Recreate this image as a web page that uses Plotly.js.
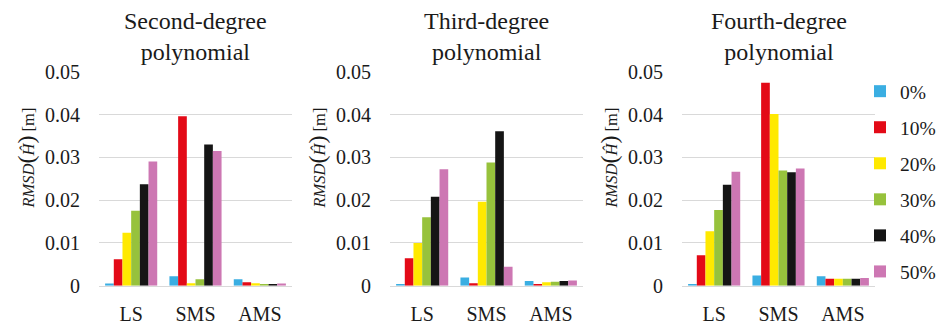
<!DOCTYPE html>
<html>
<head>
<meta charset="utf-8">
<script src="https://cdn.plot.ly/plotly-3.0.1.min.js"></script>
<style>
  html, body { margin: 0; padding: 0; background: #fff; }
  #chart { width: 937px; height: 324px; }
</style>
</head>
<body>
<div id="chart"></div>
<script>
// Methods on the category axis and outlier shares in the legend
const categories = ['LS', 'SMS', 'AMS'];
const seriesNames = ['0%', '10%', '20%', '30%', '40%', '50%'];
const seriesColors = ['#3AAEE2', '#E30A17', '#FFE900', '#97C23C', '#151515', '#CD77B3'];
const panelTitles = ['Second-degree<br>polynomial', 'Third-degree<br>polynomial', 'Fourth-degree<br>polynomial'];
const yTicks = [0, 0.01, 0.02, 0.03, 0.04, 0.05];
const yTickLabels = ['0', '0.01', '0.02', '0.03', '0.04', '0.05'];

// RMSD of the fitted surface [m], one array per outlier share: [LS, SMS, AMS]
const second0  = [0.0005, 0.0022, 0.0015];
const second10 = [0.0062, 0.0396, 0.0008];
const second20 = [0.0124, 0.0006, 0.0006];
const second30 = [0.0175, 0.0015, 0.0004];
const second40 = [0.0237, 0.0330, 0.0004];
const second50 = [0.0290, 0.0315, 0.0005];

const third0  = [0.0004, 0.0019, 0.0011];
const third10 = [0.0064, 0.0006, 0.0004];
const third20 = [0.0100, 0.0196, 0.0008];
const third30 = [0.0160, 0.0288, 0.0009];
const third40 = [0.0208, 0.0361, 0.0011];
const third50 = [0.0272, 0.0044, 0.0012];

const fourth0  = [0.0004, 0.0024, 0.0022];
const fourth10 = [0.0071, 0.0474, 0.0016];
const fourth20 = [0.0127, 0.0401, 0.0016];
const fourth30 = [0.0177, 0.0269, 0.0016];
const fourth40 = [0.0236, 0.0265, 0.0016];
const fourth50 = [0.0266, 0.0274, 0.0018];

const panels = [
  [second0, second10, second20, second30, second40, second50],
  [third0, third10, third20, third30, third40, third50],
  [fourth0, fourth10, fourth20, fourth30, fourth40, fourth50]
];

const W = 937, H = 324;
const FONT = 'Liberation Serif';
const TEXT = '#1a1a1a';
const GRID = '#d9d9d9';

// pixel extents of each plot area
const plotLeft = [99, 390, 682];
const plotWidth = 193;
const plotTop = 71.7, plotBottom = 285.7;

const traces = [];
panels.forEach((series, p) => {
  series.forEach((vals, s) => {
    traces.push({
      type: 'bar',
      x: categories,
      y: vals,
      name: seriesNames[s],
      legendgroup: 'g' + s,
      showlegend: p === 2,
      xaxis: p === 0 ? 'x' : 'x' + (p + 1),
      yaxis: p === 0 ? 'y' : 'y' + (p + 1),
      marker: { color: seriesColors[s], line: { width: 0 } },
      hoverinfo: 'x+y+name'
    });
  });
});

const layout = {
  width: W, height: H,
  // fixed margins: the legend must not shrink the plot areas
  margin: { l: 0, r: 0, t: 0, b: 0, autoexpand: false },
  paper_bgcolor: '#fff', plot_bgcolor: '#fff',
  font: { family: FONT, color: TEXT, size: 19 },
  barmode: 'group',
  bargap: 0.19,
  bargroupgap: 0,
  showlegend: true,
  legend: {
    x: 860 / W, xanchor: 'left',
    y: 1 - 72 / H, yanchor: 'top',
    font: { family: FONT, size: 19.5, color: TEXT },
    traceorder: 'grouped',
    tracegroupgap: 7.7,
    itemwidth: 30,
    bgcolor: 'rgba(0,0,0,0)'
  },
  annotations: [],
  shapes: []
};

for (let p = 0; p < 3; p++) {
  const sx = p === 0 ? '' : String(p + 1);
  const x0 = plotLeft[p] / W, x1 = (plotLeft[p] + plotWidth) / W;
  layout['xaxis' + sx] = {
    domain: [x0, x1],
    anchor: 'y' + sx,
    type: 'category',
    showline: true, linecolor: GRID, linewidth: 1.5,
    showgrid: false, zeroline: false,
    ticks: '',
    ticklabelstandoff: 10,
    tickfont: { family: FONT, size: 20, color: TEXT },
    fixedrange: true
  };
  layout['yaxis' + sx] = {
    domain: [1 - plotBottom / H, 1 - plotTop / H],
    anchor: 'x' + sx,
    range: [0, 0.05],
    tickvals: yTicks,
    ticktext: yTickLabels,
    showgrid: true, gridcolor: GRID, gridwidth: 1,
    zeroline: false, showline: false,
    ticks: '',
    ticklabelstandoff: 18,
    tickfont: { family: FONT, size: 20, color: TEXT },
    fixedrange: true
  };
  layout.annotations.push({
    xref: 'paper', yref: 'paper',
    x: (x0 + x1) / 2, y: 1 - 6 / H,
    xanchor: 'center', yanchor: 'top',
    text: panelTitles[p],
    showarrow: false,
    font: { family: FONT, size: 24, color: TEXT }
  });
  layout.annotations.push({
    xref: 'paper', yref: 'paper',
    x: (plotLeft[p] - 73.5) / W, y: 1 - 158 / H,
    xanchor: 'center', yanchor: 'middle',
    textangle: -90,
    text: '<i>RMSD</i><span style="font-size:24px">(</span><i>Ĥ</i><span style="font-size:24px">)</span> [m]',
    showarrow: false,
    font: { family: FONT, size: 16.5, color: TEXT }
  });
}

Plotly.newPlot('chart', traces, layout, { displayModeBar: false, staticPlot: true });
</script>
</body>
</html>
